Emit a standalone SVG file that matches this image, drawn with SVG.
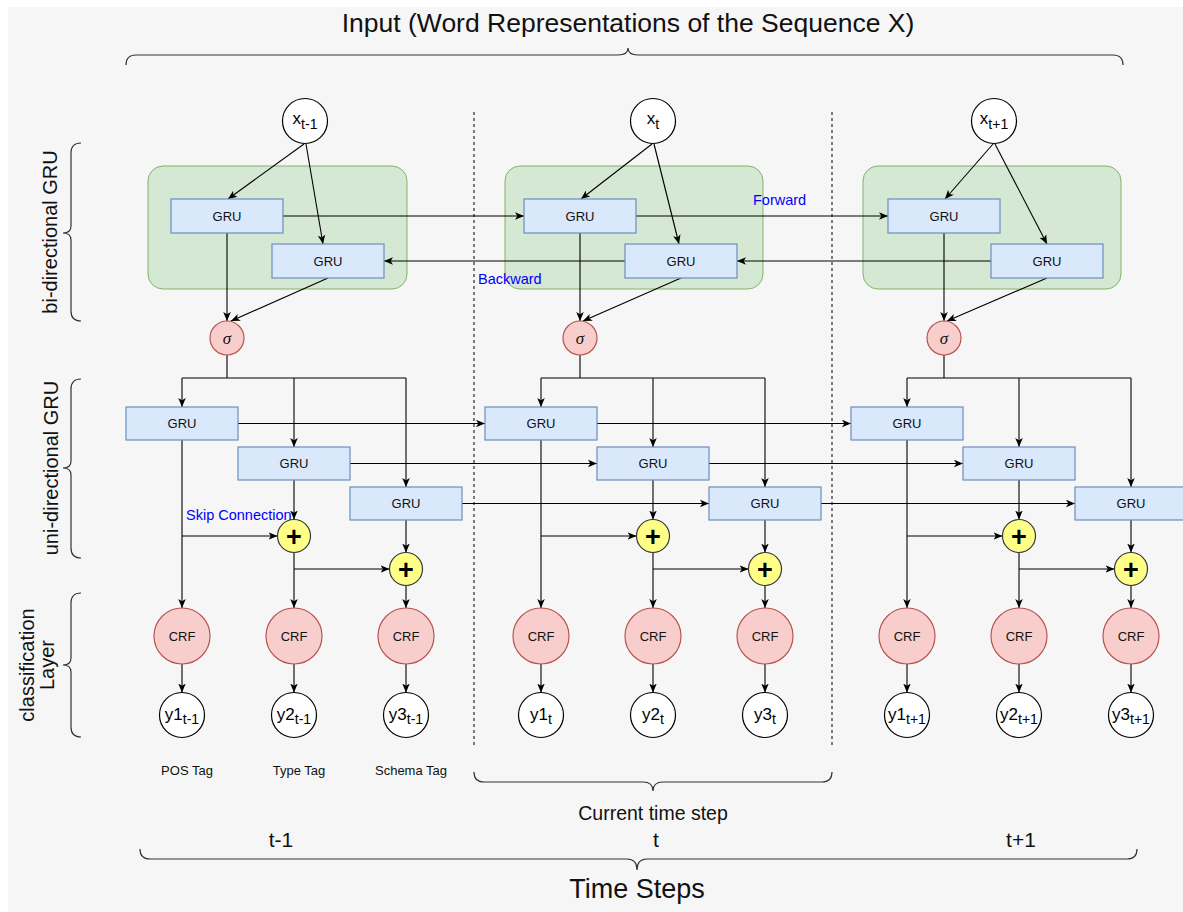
<svg xmlns="http://www.w3.org/2000/svg" width="1183" height="912" viewBox="0 0 1183 912">
<defs>
<marker id="arr" viewBox="0 0 10 10" refX="10" refY="5" markerWidth="9" markerHeight="9" orient="auto" markerUnits="userSpaceOnUse">
<path d="M0,0.8 L10,5 L0,9.2 L2.6,5 z" fill="#000"/>
</marker>
<style>
text{font-family:"Liberation Sans",Arial,sans-serif;fill:#111}
.grp{fill:#d5e8d4;stroke:#82b366;stroke-width:1}
.gru{fill:#dae8fc;stroke:#6c8ebf;stroke-width:1.2}
.red{fill:#f8cecc;stroke:#b85450;stroke-width:1.2}
.plus{fill:#ffff88;stroke:#36393d;stroke-width:1.2}
.io{fill:#fff;stroke:#000;stroke-width:1.2}
.lbl{font-size:13px;text-anchor:middle}
.sig{font-family:"Liberation Serif","DejaVu Serif",serif;font-style:italic;font-size:17px;text-anchor:middle}
.pl{font-size:27px;font-weight:bold;text-anchor:middle;fill:#000}
.var{font-size:17px;text-anchor:middle;fill:#000}
.sub{font-size:14px}
.blue{fill:#0000ff;font-size:14.5px}
.conn path{fill:none;stroke:#000;stroke-width:1.1}
.a{marker-end:url(#arr)}
.brace{fill:none;stroke:#333;stroke-width:1.2}
.dash{stroke:#000;stroke-width:1;stroke-dasharray:3 3}
.side{font-size:20px;text-anchor:middle}
</style>
</defs>
<rect x="8" y="7" width="1175" height="905" fill="#f6f6f6"/>

<g id="labels">
<text x="628" y="32" font-size="26.5" text-anchor="middle">Input (Word Representations of the Sequence X)</text>
<path class="brace" d="M126,65 Q126,55 136,55 L618,55 Q628,55 628,48 Q628,55 638,55 L1113,55 Q1123,55 1123,65"/>
<path class="brace" d="M81,143 Q71,143 71,153 L71,226 Q71,233 63,233 Q71,233 71,240 L71,311 Q71,321 81,321"/>
<path class="brace" d="M81,379 Q71,379 71,389 L71,461 Q71,468 63,468 Q71,468 71,475 L71,548 Q71,558 81,558"/>
<path class="brace" d="M81,593 Q71,593 71,603 L71,658 Q71,665 63,665 Q71,665 71,672 L71,727 Q71,737 81,737"/>
<text class="side" transform="translate(57,232) rotate(-90)">bi-directional GRU</text>
<text class="side" transform="translate(58,468) rotate(-90)">uni-directional GRU</text>
<text class="side" transform="translate(34,665) rotate(-90)">classification</text>
<text class="side" transform="translate(54,665) rotate(-90)">Layer</text>
<line class="dash" x1="474" y1="112" x2="474" y2="748"/>
<line class="dash" x1="832" y1="112" x2="832" y2="748"/>
<text class="lbl" x="187" y="775">POS Tag</text>
<text class="lbl" x="299" y="775">Type Tag</text>
<text class="lbl" x="411" y="775">Schema Tag</text>
<path class="brace" d="M474,772 Q474,782 484,782 L643,782 Q653,782 653,791 Q653,782 663,782 L822,782 Q832,782 832,772"/>
<text x="653" y="820" font-size="19.5" text-anchor="middle">Current time step</text>
<text x="281" y="847" font-size="21" text-anchor="middle">t-1</text>
<text x="656" y="847" font-size="21" text-anchor="middle">t</text>
<text x="1021" y="847" font-size="21" text-anchor="middle">t+1</text>
<path class="brace" d="M140,849 Q140,859 150,859 L627,859 Q637,859 637,870 Q637,859 647,859 L1127,859 Q1137,859 1137,849"/>
<text x="637" y="898" font-size="27" text-anchor="middle">Time Steps</text>
</g>

<g id="bigru-left"><rect class="grp" x="148" y="166" width="259" height="123" rx="15"/></g>
<g id="bigru-mid"><rect class="grp" x="505" y="166" width="258" height="123" rx="15"/></g>
<g id="bigru-right"><rect class="grp" x="863" y="166" width="258" height="123" rx="15"/></g>

<g id="edge-labels">
<text class="blue" x="753" y="205">Forward</text>
<text class="blue" x="478" y="284">Backward</text>
<text class="blue" x="186" y="520" font-size="13">Skip Connection</text>
</g>

<g class="conn" id="connectors">
<path class="a" d="M304,144 L228,199"/>
<path class="a" d="M306,144 L323,244"/>
<path class="a" d="M283,216 L524,216"/>
<path class="a" d="M625,261 L384,261"/>
<path class="a" d="M227,233 L227,321"/>
<path class="a" d="M328,278 L231,321"/>
<path class="a" d="M652,144 L581,199"/>
<path class="a" d="M654,144 L679,244"/>
<path class="a" d="M636,216 L888,216"/>
<path class="a" d="M991,261 L737,261"/>
<path class="a" d="M580,233 L580,321"/>
<path class="a" d="M681,278 L583,321"/>
<path class="a" d="M993,144 L945,199"/>
<path class="a" d="M995,144 L1047,244"/>
<path class="a" d="M944,233 L944,321"/>
<path class="a" d="M1047,278 L947,321"/>

<path d="M227,355 V378 M182,378 H406"/>
<path class="a" d="M182,378 V407"/>
<path class="a" d="M294,378 V447"/>
<path class="a" d="M406,378 V487"/>
<path d="M580,355 V378 M541,378 H765"/>
<path class="a" d="M541,378 V407"/>
<path class="a" d="M653,378 V447"/>
<path class="a" d="M765,378 V487"/>
<path d="M944,355 V378 M907,378 H1131"/>
<path class="a" d="M907,378 V407"/>
<path class="a" d="M1019,378 V447"/>
<path class="a" d="M1131,378 V487"/>

<path class="a" d="M238,423.5 H485"/>
<path class="a" d="M597,423.5 H851"/>
<path class="a" d="M350,463.5 H597"/>
<path class="a" d="M709,463.5 H963"/>
<path class="a" d="M462,503.5 H709"/>
<path class="a" d="M821,503.5 H1075"/>

<path class="a" d="M182,440 V608"/>
<path class="a" d="M182,536 H277.5"/>
<path class="a" d="M294,480 V519.5"/>
<path class="a" d="M294,552.5 V608"/>
<path class="a" d="M294,569 H389.5"/>
<path class="a" d="M406,520 V552.5"/>
<path class="a" d="M406,585.5 V608"/>

<path class="a" d="M541,440 V608"/>
<path class="a" d="M541,536 H636.5"/>
<path class="a" d="M653,480 V519.5"/>
<path class="a" d="M653,552.5 V608"/>
<path class="a" d="M653,569 H748.5"/>
<path class="a" d="M765,520 V552.5"/>
<path class="a" d="M765,585.5 V608"/>

<path class="a" d="M907,440 V608"/>
<path class="a" d="M907,536 H1002.5"/>
<path class="a" d="M1019,480 V519.5"/>
<path class="a" d="M1019,552.5 V608"/>
<path class="a" d="M1019,569 H1114.5"/>
<path class="a" d="M1131,520 V552.5"/>
<path class="a" d="M1131,585.5 V608"/>

<path class="a" d="M182,664 V692.5"/>
<path class="a" d="M294,664 V692.5"/>
<path class="a" d="M406,664 V692.5"/>
<path class="a" d="M541,664 V692.5"/>
<path class="a" d="M653,664 V692.5"/>
<path class="a" d="M765,664 V692.5"/>
<path class="a" d="M907,664 V692.5"/>
<path class="a" d="M1019,664 V692.5"/>
<path class="a" d="M1131,664 V692.5"/>
</g>

<g id="x-tm1"><circle class="io" cx="305" cy="121" r="22.5"/><text class="var" x="305" y="124">x<tspan class="sub" dy="5">t-1</tspan></text></g>
<g id="x-t"><circle class="io" cx="653" cy="121" r="22.5"/><text class="var" x="653" y="124">x<tspan class="sub" dy="5">t</tspan></text></g>
<g id="x-tp1"><circle class="io" cx="994" cy="121" r="22.5"/><text class="var" x="994" y="124">x<tspan class="sub" dy="5">t+1</tspan></text></g>

<g id="bf-left"><rect class="gru" x="171" y="199" width="112" height="34"/><text class="lbl" x="227" y="220.5">GRU</text></g>
<g id="bb-left"><rect class="gru" x="272" y="244" width="112" height="34"/><text class="lbl" x="328" y="265.5">GRU</text></g>
<g id="bf-mid"><rect class="gru" x="524" y="199" width="112" height="34"/><text class="lbl" x="580" y="220.5">GRU</text></g>
<g id="bb-mid"><rect class="gru" x="625" y="244" width="112" height="34"/><text class="lbl" x="681" y="265.5">GRU</text></g>
<g id="bf-right"><rect class="gru" x="888" y="199" width="112" height="34"/><text class="lbl" x="944" y="220.5">GRU</text></g>
<g id="bb-right"><rect class="gru" x="991" y="244" width="112" height="34"/><text class="lbl" x="1047" y="265.5">GRU</text></g>

<g id="sig-left"><circle class="red" cx="227" cy="338" r="17"/><text class="sig" x="227" y="343.5">σ</text></g>
<g id="sig-mid"><circle class="red" cx="580" cy="338" r="17"/><text class="sig" x="580" y="343.5">σ</text></g>
<g id="sig-right"><circle class="red" cx="944" cy="338" r="17"/><text class="sig" x="944" y="343.5">σ</text></g>

<g id="u1-left"><rect class="gru" x="126" y="407" width="112" height="33"/><text class="lbl" x="182" y="428">GRU</text></g>
<g id="u2-left"><rect class="gru" x="238" y="447" width="112" height="33"/><text class="lbl" x="294" y="468">GRU</text></g>
<g id="u3-left"><rect class="gru" x="350" y="487" width="112" height="33"/><text class="lbl" x="406" y="508">GRU</text></g>
<g id="u1-mid"><rect class="gru" x="485" y="407" width="112" height="33"/><text class="lbl" x="541" y="428">GRU</text></g>
<g id="u2-mid"><rect class="gru" x="597" y="447" width="112" height="33"/><text class="lbl" x="653" y="468">GRU</text></g>
<g id="u3-mid"><rect class="gru" x="709" y="487" width="112" height="33"/><text class="lbl" x="765" y="508">GRU</text></g>
<g id="u1-right"><rect class="gru" x="851" y="407" width="112" height="33"/><text class="lbl" x="907" y="428">GRU</text></g>
<g id="u2-right"><rect class="gru" x="963" y="447" width="112" height="33"/><text class="lbl" x="1019" y="468">GRU</text></g>
<g id="u3-right"><rect class="gru" x="1075" y="487" width="112" height="33"/><text class="lbl" x="1131" y="508">GRU</text></g>

<g id="p1-left"><circle class="plus" cx="294" cy="536" r="16.5"/><text class="pl" x="294" y="545.5">+</text></g>
<g id="p2-left"><circle class="plus" cx="406" cy="569" r="16.5"/><text class="pl" x="406" y="578.5">+</text></g>
<g id="p1-mid"><circle class="plus" cx="653" cy="536" r="16.5"/><text class="pl" x="653" y="545.5">+</text></g>
<g id="p2-mid"><circle class="plus" cx="765" cy="569" r="16.5"/><text class="pl" x="765" y="578.5">+</text></g>
<g id="p1-right"><circle class="plus" cx="1019" cy="536" r="16.5"/><text class="pl" x="1019" y="545.5">+</text></g>
<g id="p2-right"><circle class="plus" cx="1131" cy="569" r="16.5"/><text class="pl" x="1131" y="578.5">+</text></g>

<g id="crf1-left"><circle class="red" cx="182" cy="636" r="28"/><text class="lbl" x="182" y="640.5">CRF</text></g>
<g id="crf2-left"><circle class="red" cx="294" cy="636" r="28"/><text class="lbl" x="294" y="640.5">CRF</text></g>
<g id="crf3-left"><circle class="red" cx="406" cy="636" r="28"/><text class="lbl" x="406" y="640.5">CRF</text></g>
<g id="crf1-mid"><circle class="red" cx="541" cy="636" r="28"/><text class="lbl" x="541" y="640.5">CRF</text></g>
<g id="crf2-mid"><circle class="red" cx="653" cy="636" r="28"/><text class="lbl" x="653" y="640.5">CRF</text></g>
<g id="crf3-mid"><circle class="red" cx="765" cy="636" r="28"/><text class="lbl" x="765" y="640.5">CRF</text></g>
<g id="crf1-right"><circle class="red" cx="907" cy="636" r="28"/><text class="lbl" x="907" y="640.5">CRF</text></g>
<g id="crf2-right"><circle class="red" cx="1019" cy="636" r="28"/><text class="lbl" x="1019" y="640.5">CRF</text></g>
<g id="crf3-right"><circle class="red" cx="1131" cy="636" r="28"/><text class="lbl" x="1131" y="640.5">CRF</text></g>

<g id="y1-left"><circle class="io" cx="182" cy="715" r="22.5"/><text class="var" x="182" y="720">y1<tspan class="sub" dy="4">t-1</tspan></text></g>
<g id="y2-left"><circle class="io" cx="294" cy="715" r="22.5"/><text class="var" x="294" y="720">y2<tspan class="sub" dy="4">t-1</tspan></text></g>
<g id="y3-left"><circle class="io" cx="406" cy="715" r="22.5"/><text class="var" x="406" y="720">y3<tspan class="sub" dy="4">t-1</tspan></text></g>
<g id="y1-mid"><circle class="io" cx="541" cy="715" r="22.5"/><text class="var" x="541" y="720">y1<tspan class="sub" dy="4">t</tspan></text></g>
<g id="y2-mid"><circle class="io" cx="653" cy="715" r="22.5"/><text class="var" x="653" y="720">y2<tspan class="sub" dy="4">t</tspan></text></g>
<g id="y3-mid"><circle class="io" cx="765" cy="715" r="22.5"/><text class="var" x="765" y="720">y3<tspan class="sub" dy="4">t</tspan></text></g>
<g id="y1-right"><circle class="io" cx="907" cy="715" r="22.5"/><text class="var" x="907" y="720">y1<tspan class="sub" dy="4">t+1</tspan></text></g>
<g id="y2-right"><circle class="io" cx="1019" cy="715" r="22.5"/><text class="var" x="1019" y="720">y2<tspan class="sub" dy="4">t+1</tspan></text></g>
<g id="y3-right"><circle class="io" cx="1131" cy="715" r="22.5"/><text class="var" x="1131" y="720">y3<tspan class="sub" dy="4">t+1</tspan></text></g>
</svg>
